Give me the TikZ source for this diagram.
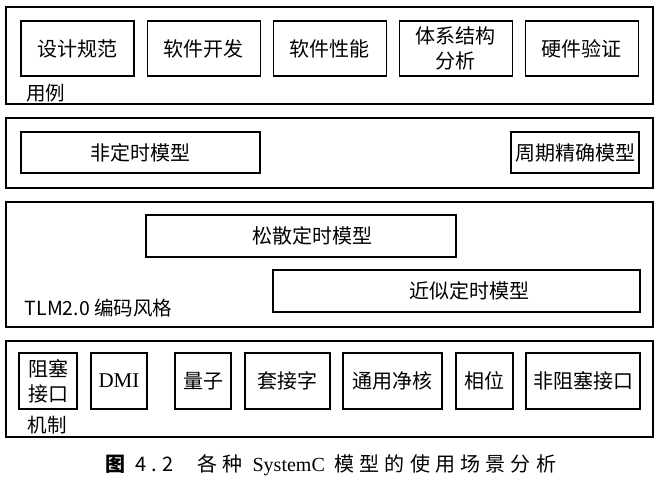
\documentclass[tikz,border=0pt]{standalone}
\usepackage{fontspec}
\setmainfont{Noto Sans CJK SC}
\newfontfamily\latin{Liberation Serif}
\newfontfamily\piefont[LetterSpace=26]{Noto Sans CJK SC}
\usepackage{tikz}
\usetikzlibrary{positioning}
\tikzstyle{marco}=[rectangle,draw=black,line width=1.1pt,minimum width=647]
\tikzstyle{caja}=[rectangle,draw=black,line width=1.1pt,align=center,inner sep=1,font=\fontsize{20}{25}\selectfont]
\tikzstyle{uso}=[caja,minimum width=113,minimum height=55]
\tikzstyle{modelo}=[caja,minimum height=41]
\tikzstyle{mecanismo}=[caja,minimum height=56]
\tikzstyle{rotulo}=[inner sep=0,font=\fontsize{19.5}{23}\selectfont]

\begin{document}
\begin{tikzpicture}[x=1pt,y=-1pt]
	\useasboundingbox (0,0) rectangle (662,482);
	% casos de uso
	\node[marco,minimum height=97] (usos) at (329.5,55.5) {};
	\node[uso] (spec) at (77.5,48.5) {设计规范};
	\node[uso] (swdev) [right=12pt of spec] {软件开发};
	\node[uso] (swperf) [right=12pt of swdev] {软件性能};
	\node[uso] (arch) [right=12pt of swperf] {体系结构\\分析};
	\node[uso] (hwver) [right=12pt of arch] {硬件验证};
	\node[rotulo] (usos lbl) at (46,93) {用例};
	% modelos
	\node[marco,minimum height=70] (temp) at (329.5,153) {};
	\node[modelo,minimum width=239] (untimed) at (140.5,152.5) {非定时模型};
	\node[modelo,minimum width=128] (cycle) at (575,152.5) {周期精确模型};
	% estilos TLM2.0
	\node[marco,minimum height=125] (tlm) at (329.5,264.5) {};
	\node[modelo,minimum width=310,minimum height=42] (loose) at (301,236) {\hspace*{23pt}松散定时模型};
	\node[modelo,minimum width=367,minimum height=42] (approx) at (456.5,291) {\hspace*{25pt}近似定时模型};
	\node[rotulo] (tlm lbl) at (98.5,308) {\fontsize{19.5}{22}\selectfont TLM2.0 编码风格};
	% mecanismos
	\node[marco,minimum height=96] (mec) at (329.5,389) {};
	\node[mecanismo,minimum width=58] (block) at (48,381) {阻塞\\接口};
	\node[mecanismo,minimum width=56] (dmi) at (119,381) {\latin\fontsize{21}{25}\selectfont DMI};
	\node[mecanismo,minimum width=56] (quantum) at (203,381) {量子};
	\node[mecanismo,minimum width=85] (socket) at (287.5,381) {套接字};
	\node[mecanismo,minimum width=99] (payload) at (392.5,381) {通用净核};
	\node[mecanismo,minimum width=57] (phase) at (484.5,381) {相位};
	\node[mecanismo,minimum width=114] (nonblock) at (583,381) {非阻塞接口};
	\node[rotulo] (mec lbl) at (47,425) {机制};
	% pie de figura
	\node[inner sep=0,font=\piefont\fontsize{20}{24}\selectfont] (pie) at (331,465) {{\bfseries 图} 4.2\hspace{1.2em}各种 {\latin SystemC} 模型的使用场景分析};
\end{tikzpicture}
\end{document}
